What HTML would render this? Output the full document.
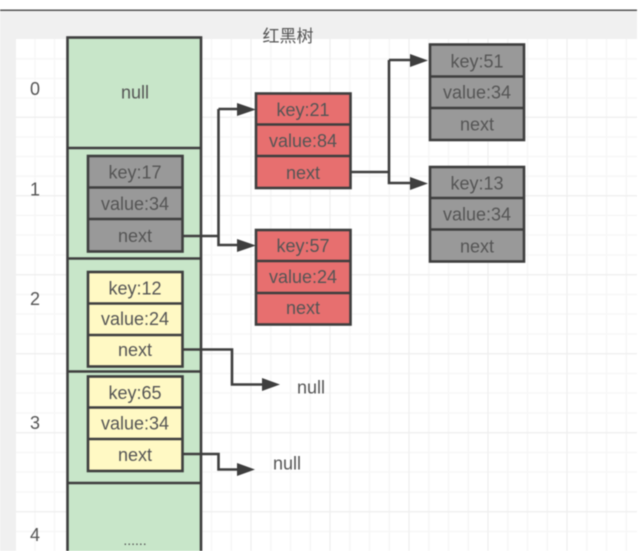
<!DOCTYPE html>
<html><head><meta charset="utf-8"><style>
html,body{margin:0;padding:0;background:#fff;width:641px;height:551px;overflow:hidden}
svg{display:block;filter:blur(0.5px)}
text{font-family:"Liberation Sans","Noto Sans CJK SC",sans-serif;font-size:18px;fill:#555;text-anchor:middle}
.b{stroke:#3e3e3e;stroke-width:2.6;stroke-linejoin:miter}
.l{fill:none;stroke:#3e3e3e;stroke-width:2.6}
.g{fill:#999999}.r{fill:#e76f6f}.y{fill:#fff9c4}
</style></head><body>
<svg width="641" height="551" viewBox="0 0 641 551" xmlns="http://www.w3.org/2000/svg">
<rect x="0" y="11" width="637" height="540" fill="#f0f0f0"/>
<rect x="0" y="9.500" width="637" height="1.500" fill="#555"/>
<rect x="16" y="39" width="621" height="512" fill="#fff"/>
<path d="M35 39V551M54.500 39V551M74.800 39V551M94.500 39V551M114.200 39V551M133.900 39V551M152.500 39V551M191.800 39V551M211.500 39V551M231.300 39V551M270.800 39V551M290.500 39V551M310.300 39V551M349.800 39V551M369.500 39V551M389.300 39V551M428.800 39V551M448.500 39V551M468.300 39V551M507.800 39V551M527.500 39V551M547.300 39V551M586.800 39V551M606.500 39V551M626.300 39V551" stroke="#f6f6f6" stroke-width="1.300" fill="none"/>
<path d="M16 58.800H637M16 78.500H637M16 98H637M16 137H637M16 156.500H637M16 176.200H637M16 215.400H637M16 235H637M16 255H637M16 294.500H637M16 314H637M16 334H637M16 373.500H637M16 393H637M16 413H637M16 452.500H637M16 472H637M16 492H637M16 531.500H637" stroke="#f6f6f6" stroke-width="1.300" fill="none"/>
<path d="M16 117.200H637M16 195.800H637M16 274.700H637M16 353.700H637M16 432.700H637M16 511.700H637M172 39V551M251 39V551M330 39V551M409 39V551M488 39V551M567 39V551" stroke="#efefef" stroke-width="1.300" fill="none"/>

<rect x="67.500" y="37.500" width="133.500" height="520" fill="#c8e6c9" class="b"/>
<path d="M67.500 148H201M67.500 258.500H201M67.500 371.500H201M67.500 483H201" class="l"/>

<rect x="88" y="156" width="94.500" height="95.500" class="b g"/>
<path d="M88 187.500H182.500M88 219H182.500" class="l"/>
<rect x="88" y="272" width="94.500" height="94.500" class="b y"/>
<path d="M88 303.500H182.500M88 335H182.500" class="l"/>
<rect x="88" y="376.500" width="94.500" height="94.500" class="b y"/>
<path d="M88 407.500H182.500M88 439H182.500" class="l"/>
<rect x="256" y="93.500" width="94.500" height="94.500" class="b r"/>
<path d="M256 124.500H350.500M256 156H350.500" class="l"/>
<rect x="256" y="230" width="94.500" height="94.500" class="b r"/>
<path d="M256 261H350.500M256 293H350.500" class="l"/>
<rect x="430" y="44.500" width="94" height="95.500" class="b g"/>
<path d="M430 76.500H524M430 108H524" class="l"/>
<rect x="430" y="167" width="94" height="94.500" class="b g"/>
<path d="M430 198H524M430 229.500H524" class="l"/>

<path d="M182.500 236H218.500M218.500 109H240M218.500 109V245H240" class="l"/>
<path d="M351 172H389M389 60H412M389 60V183H412" class="l"/>
<path d="M182.500 349.500H232V384.500H264" class="l"/>
<path d="M182.500 454H218.500V469.500H240" class="l"/>
<path d="M256 109.500L237 103V116ZM256 245.500L237 239V252ZM428 60.500L410 54V67ZM428 183.500L410 177V190ZM280 384.500L262 378V391ZM255 469.500L237 463V476Z" fill="#3e3e3e"/>

<text x="288" y="42" style="font-size:17px">红黑树</text>
<text x="35" y="95">0</text>
<text x="35" y="195.500">1</text>
<text x="35" y="305">2</text>
<text x="35" y="429">3</text>
<text x="35" y="541">4</text>
<text x="135" y="98.500">null</text>
<text x="135" y="545" style="font-size:14px">......</text>

<text x="135" y="178.500">key:17</text><text x="135" y="210">value:34</text><text x="135" y="242">next</text>
<text x="135" y="294.500">key:12</text><text x="135" y="325">value:24</text><text x="135" y="356">next</text>
<text x="135" y="399">key:65</text><text x="135" y="429.500">value:34</text><text x="135" y="461">next</text>
<text x="303" y="116">key:21</text><text x="303" y="147">value:84</text><text x="303" y="179">next</text>
<text x="303" y="252">key:57</text><text x="303" y="283">value:24</text><text x="303" y="314">next</text>
<text x="477" y="67.500">key:51</text><text x="477" y="98.500">value:34</text><text x="477" y="130.500">next</text>
<text x="477" y="189.500">key:13</text><text x="477" y="220.500">value:34</text><text x="477" y="252.500">next</text>
<text x="311" y="393.500">null</text>
<text x="287" y="469.500">null</text>
</svg>
</body></html>
